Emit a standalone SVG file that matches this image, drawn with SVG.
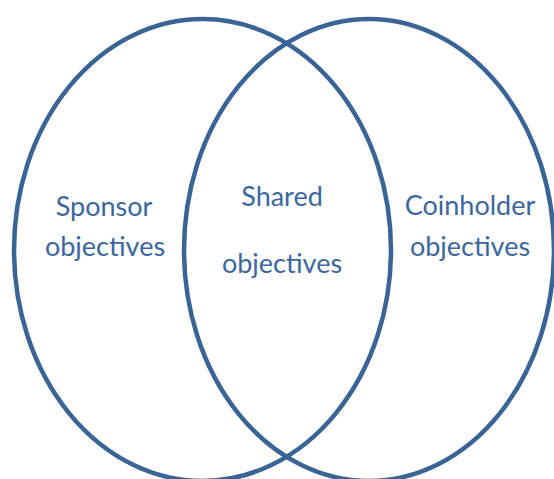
<svg xmlns="http://www.w3.org/2000/svg" width="554" height="479" viewBox="0 0 554 479">
<style>
.ring{fill:none;stroke:#3a6496;stroke-width:4.5}
.lbl{font-family:Lato,"Liberation Sans",sans-serif;font-size:27px;fill:#3c679e;text-anchor:middle}
</style>
<rect width="554" height="479" fill="#ffffff"/>
<g id="sponsor">
<ellipse class="ring" cx="202.5" cy="250" rx="188.5" ry="231"/>
<text class="lbl" x="104" y="216">Sponsor</text>
<text class="lbl" x="105" y="256">objectives</text>
</g>
<g id="coinholder">
<ellipse class="ring" cx="369" cy="250" rx="185" ry="231"/>
<text class="lbl" x="470" y="215">Coinholder</text>
<text class="lbl" x="470" y="256">objectives</text>
</g>
<g id="shared">
<text class="lbl" x="282" y="206">Shared</text>
<text class="lbl" x="282" y="273">objectives</text>
</g>
<g id="connectors"/>
</svg>
